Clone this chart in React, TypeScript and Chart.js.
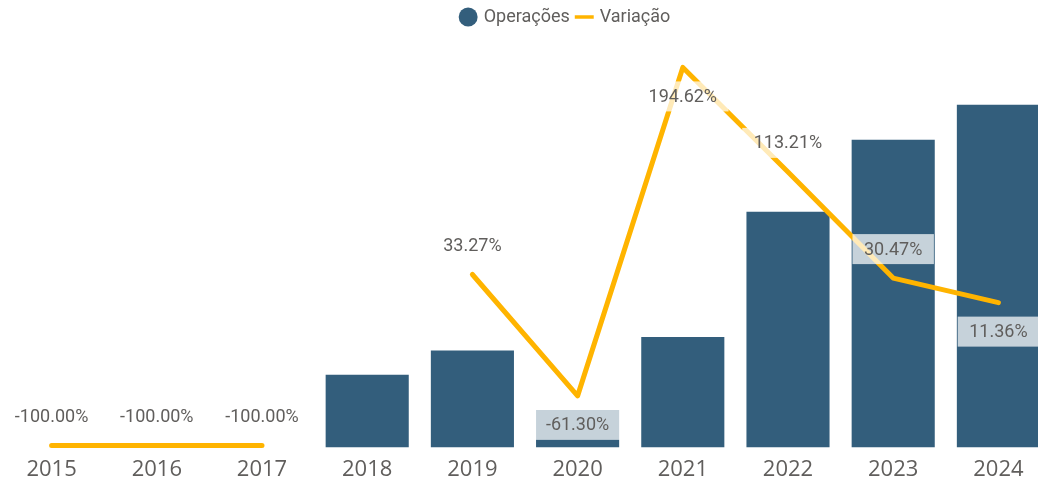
import React, { useEffect, useRef } from "react";
import { Chart, registerables } from "chart.js";

Chart.register(...registerables);

const years: string[] = ["2015", "2016", "2017", "2018", "2019", "2020", "2021", "2022", "2023", "2024"];
const operacoes: number[] = [0, 0, 0, 580, 773, 299, 881, 1878, 2451, 2729];
const variacao: (number | null)[] = [-100, -100, -100, null, 33.27, -61.3, 194.62, 113.21, 30.47, 11.36];
// -1: label above the point, 1: label below the point
const labelSide: number[] = [-1, -1, -1, 0, -1, 1, 1, -1, -1, 1];

const BAR_COLOR = "#335e7c";
const LINE_COLOR = "#ffb400";
const TEXT_COLOR = "#605e5c";

const labelPlugin = {
  id: "variacaoLabels",
  afterDatasetsDraw(chart: any) {
    const meta = chart.getDatasetMeta(1);
    const ctx = chart.ctx as CanvasRenderingContext2D;
    ctx.save();
    ctx.font = "18px Roboto";
    ctx.textAlign = "center";
    ctx.textBaseline = "middle";
    meta.data.forEach((pt: any, i: number) => {
      const v = variacao[i];
      if (v == null) return;
      const text = v.toFixed(2) + "%";
      const x = pt.x;
      const y = pt.y + labelSide[i] * 29;
      const w = ctx.measureText(text).width + 23;
      ctx.fillStyle = "rgba(255,255,255,0.72)";
      ctx.fillRect(x - w / 2, y - 15, w, 30);
      ctx.fillStyle = TEXT_COLOR;
      ctx.fillText(text, x, y + 1);
    });
    ctx.restore();
  },
};

const legendShift = {
  id: "legendShift",
  afterLayout(chart: any) {
    const l = chart.legend;
    if (l) {
      l.left += 41;
      l.right += 41;
    }
  },
};

export default function App() {
  const ref = useRef<HTMLCanvasElement | null>(null);

  useEffect(() => {
    if (!ref.current) return;
    const chart = new Chart(ref.current, {
      type: "bar",
      data: {
        labels: years,
        datasets: [
          {
            type: "bar",
            label: "Operações",
            data: operacoes,
            backgroundColor: BAR_COLOR,
            borderWidth: 0,
            barPercentage: 0.79,
            categoryPercentage: 1,
            yAxisID: "y",
            order: 1,
            pointStyle: "circle",
          } as any,
          {
            type: "line",
            label: "Variação",
            data: variacao,
            borderColor: LINE_COLOR,
            backgroundColor: LINE_COLOR,
            borderWidth: 5,
            pointRadius: 0,
            pointHoverRadius: 0,
            pointStyle: "line",
            spanGaps: false,
            tension: 0,
            borderCapStyle: "round",
            borderJoinStyle: "round",
            clip: false,
            yAxisID: "y1",
            order: 0,
          } as any,
        ],
      },
      options: {
        animation: false,
        responsive: true,
        maintainAspectRatio: false,
        layout: { padding: 0 },
        plugins: {
          tooltip: { enabled: false },
          legend: {
            position: "top",
            align: "center",
            labels: {
              usePointStyle: true,
              boxHeight: 13.4,
              boxWidth: 13,
              padding: 8,
              color: TEXT_COLOR,
              font: { family: "Roboto", size: 18 },
              sort: (a: any, b: any) => a.datasetIndex - b.datasetIndex,
              generateLabels: (c: any) => {
                const items = (Chart.defaults.plugins.legend.labels as any).generateLabels(c);
                items.forEach((it: any) => {
                  if (it.datasetIndex === 1) it.lineWidth = 3.5;
                  if (it.datasetIndex === 0) it.lineWidth = 0;
                });
                return items;
              },
            },
          },
        },
        scales: {
          x: {
            grid: { display: false, drawTicks: false },
            border: { display: false },
            ticks: {
              color: TEXT_COLOR,
              font: { family: "'Open Sans'", size: 22 },
              padding: 9,
            },
          },
          y: { display: false, min: 0, max: 3277 },
          y1: { display: false, min: -101.6, max: 219.1 },
        },
      } as any,
      plugins: [labelPlugin, legendShift],
    });
    return () => chart.destroy();
  }, []);

  return (
    <div
      style={{
        position: "absolute",
        left: 0,
        top: 0,
        width: 1038,
        height: 486,
        overflow: "hidden",
        background: "#fff",
      }}
    >
      <div style={{ position: "absolute", left: -1, top: 0, width: 1052, height: 492 }}>
        <canvas ref={ref} />
      </div>
    </div>
  );
}
